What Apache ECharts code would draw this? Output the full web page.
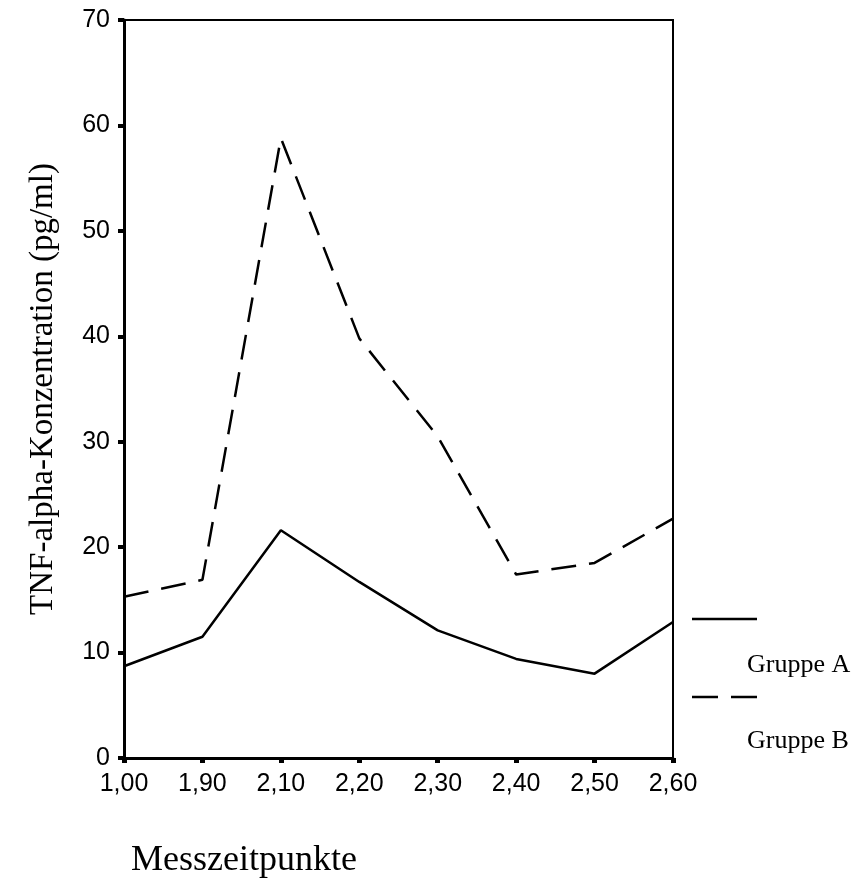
<!DOCTYPE html>
<html>
<head>
<meta charset="utf-8">
<script src="https://cdn.jsdelivr.net/npm/echarts@6/dist/echarts.min.js"></script>
<style>
  html, body { margin: 0; padding: 0; background: #fff; }
  #chart { width: 856px; height: 884px; }
</style>
</head>
<body>
<div id="chart"></div>
<script>
// data
const categories = ['1,00', '1,90', '2,10', '2,20', '2,30', '2,40', '2,50', '2,60'];
const gruppeA = [8.7, 11.5, 21.6, 16.7, 12.1, 9.4, 8.0, 12.9];
const gruppeB = [15.3, 16.9, 58.8, 39.8, 30.5, 17.4, 18.5, 22.7];
const yTicks = { min: 0, max: 70, interval: 10 };

const serif = '"Liberation Serif", "Times New Roman", serif';
const sans = '"Liberation Sans", Arial, sans-serif';

var myChart = echarts.init(document.getElementById('chart'));
myChart.setOption({
  animation: false,
  backgroundColor: '#fff',
  grid: {
    left: 124,
    right: 183,
    top: 20,
    bottom: 126,
    show: true,
    borderColor: '#000',
    borderWidth: 2
  },
  xAxis: {
    type: 'category',
    boundaryGap: false,
    data: categories,
    axisLine: { lineStyle: { color: '#000', width: 3 } },
    axisTick: { alignWithLabel: true, length: 5, lineStyle: { color: '#000', width: 5 } },
    axisLabel: { color: '#000', fontFamily: sans, fontSize: 25, margin: 14 },
    splitLine: { show: false }
  },
  yAxis: {
    type: 'value',
    min: yTicks.min,
    max: yTicks.max,
    interval: yTicks.interval,
    name: 'TNF-alpha-Konzentration (pg/ml)',
    nameLocation: 'middle',
    nameGap: 64,
    nameTextStyle: { color: '#000', fontFamily: serif, fontSize: 33 },
    axisLine: { show: true, lineStyle: { color: '#000', width: 3 } },
    axisTick: { show: true, length: 6, lineStyle: { color: '#000', width: 4 } },
    axisLabel: { color: '#000', fontFamily: sans, fontSize: 25, margin: 14 },
    splitLine: { show: false }
  },
  series: [
    {
      name: 'Gruppe A',
      type: 'line',
      data: gruppeA,
      symbol: 'none',
      lineStyle: { color: '#000', width: 2.5, type: 'solid' }
    },
    {
      name: 'Gruppe B',
      type: 'line',
      data: gruppeB,
      symbol: 'none',
      lineStyle: { color: '#000', width: 2.5, type: [25, 13] }
    }
  ],
  graphic: [
    // legend
    { type: 'line', shape: { x1: 692, y1: 619, x2: 757, y2: 619 }, style: { stroke: '#000', lineWidth: 2.5 } },
    { type: 'text', left: 747, top: 652, style: { text: 'Gruppe A', font: '26px ' + serif, fill: '#000' } },
    { type: 'line', shape: { x1: 692, y1: 697, x2: 757, y2: 697 }, style: { stroke: '#000', lineWidth: 2.5, lineDash: [26, 13] } },
    { type: 'text', left: 747, top: 728, style: { text: 'Gruppe B', font: '26px ' + serif, fill: '#000' } },
    // x axis title
    { type: 'text', left: 131, top: 843, style: { text: 'Messzeitpunkte', font: '36px ' + serif, fill: '#000' } }
  ]
});
</script>
</body>
</html>
